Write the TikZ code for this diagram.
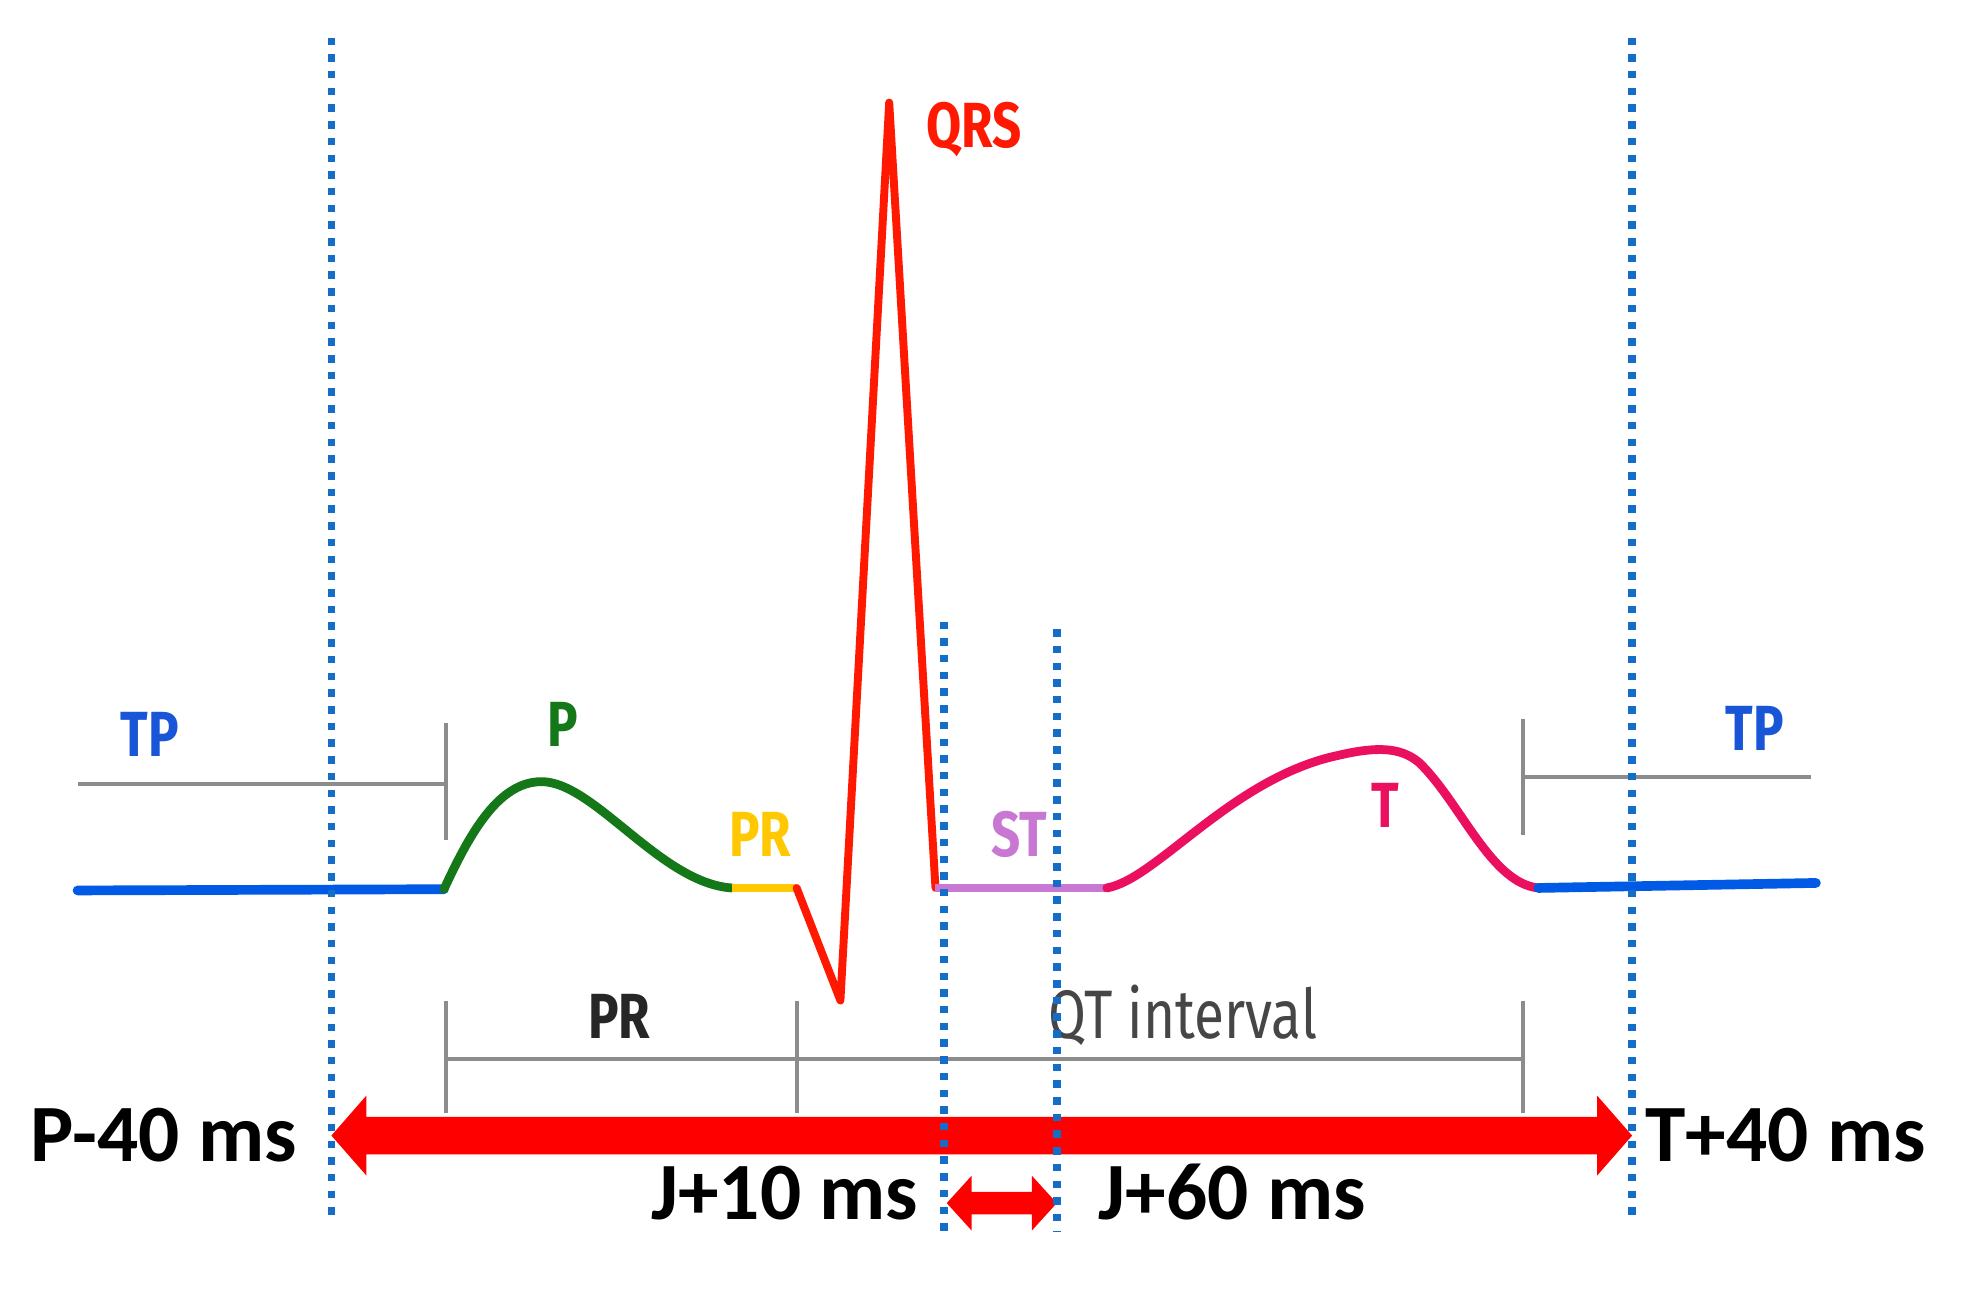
\documentclass[tikz,border=0pt]{standalone}
\usepackage{fontspec}
\newfontfamily\lblfont[FakeStretch=0.8]{Fira Sans}
\newfontfamily\calfont{Carlito}
\definecolor{dotblue}{RGB}{20,110,200}
\definecolor{tpblue}{RGB}{25,85,215}
\definecolor{baseblue}{RGB}{0,90,230}
\definecolor{pgreen}{RGB}{20,120,25}
\definecolor{pryellow}{RGB}{255,200,0}
\definecolor{qrsred}{RGB}{255,25,0}
\definecolor{storchid}{RGB}{200,120,210}
\definecolor{tpink}{RGB}{235,15,95}
\definecolor{brgray}{RGB}{140,140,140}
\definecolor{qtgray}{RGB}{70,70,70}
\tikzset{
  vdots/.style={dotblue, line width=1.7pt, dash pattern=on 1.7pt off 2.1pt},
  bracket/.style={brgray, line width=0.9pt},
  wave/.style={line width=1.8pt, line cap=round, line join=round},
  flat/.style={line width=2.2pt, line cap=round},
  wlabel/.style={inner sep=0pt, font=\lblfont\bfseries\fontsize{14.5pt}{16pt}\selectfont},
  mslabel/.style={inner sep=0pt, font=\calfont\bfseries\fontsize{18.5pt}{20pt}\selectfont, text=black},
  bigarrow/.style={fill=red, draw=none}
}
\begin{document}
\begin{tikzpicture}[x=0.01cm, y=-0.01cm]
\fill[white] (0,0) rectangle (1568,1030);
\useasboundingbox (0,0) rectangle (1568,1030);

% key points
\coordinate (L0) at (62,712);
\coordinate (Pstart) at (355,711);
\coordinate (Ppeak) at (433,625);
\coordinate (Pend) at (585,710);
\coordinate (Qstart) at (637,710);
\coordinate (Qbot) at (672,800);
\coordinate (Rpeak) at (711,82);
\coordinate (J) at (748,710);
\coordinate (STend) at (885,710);
\coordinate (Tend) at (1230,710);
\coordinate (R0) at (1452,706);

% gray brackets
\coordinate (tpl1) at (62,627);
\coordinate (tpl2) at (357,627);
\coordinate (tplt) at (357,578);
\coordinate (tplb) at (357,672);
\draw[bracket] (tpl1) -- (tpl2);
\draw[bracket] (tplt) -- (tplb);
\coordinate (tpr1) at (1218,621);
\coordinate (tpr2) at (1448,621);
\coordinate (tprt) at (1218,575);
\coordinate (tprb) at (1218,668);
\draw[bracket] (tpr1) -- (tpr2);
\draw[bracket] (tprt) -- (tprb);
\coordinate (ia) at (357,847);
\coordinate (ib) at (1218,847);
\draw[bracket] (ia) -- (ib);
\foreach \xx in {357,637,1218} {
  \draw[bracket] (\xx,800) -- (\xx,890);
}

% ECG waveform
\draw[flat, baseblue] (L0) -- (Pstart);
\draw[wave, pgreen, line width=2pt] (Pstart) .. controls (375,668) and (398,625) .. (Ppeak)
   .. controls (475,625) and (528,706) .. (Pend);
\draw[wave, pryellow, line width=2pt, line cap=butt] (Pend) -- (Qstart);
\draw[wave, qrsred] (Qstart) -- (Qbot) -- (Rpeak) -- (J);
\draw[wave, storchid, line width=1.7pt, line cap=butt] (J) -- (STend);
\draw[wave, tpink, line width=2pt] (STend) .. controls (925,703) and (985,622) .. (1070,604)
   .. controls (1100,597) and (1120,597) .. (1135,610)
   .. controls (1168,642) and (1192,706) .. (Tend);
\draw[flat, baseblue] (Tend) -- (R0);

% wave labels
\node[wlabel, text=tpblue, anchor=base] (tpL) at (120,605) {TP};
\node[wlabel, text=pgreen, anchor=base] (plab) at (450,597) {P};
\node[wlabel, text=pryellow, anchor=base] (prY) at (608,685) {PR};
\node[wlabel, text=qrsred, anchor=base west] (qrs) at (740,118) {QRS};
\node[wlabel, text=storchid, anchor=base] (st) at (815,685) {ST};
\node[wlabel, text=tpink, anchor=base] (tlab) at (1108,662) {T};
\node[wlabel, text=tpblue, anchor=base] (tpR) at (1403,600) {TP};
\node[wlabel, text=black!85, anchor=base] (prK) at (495,830) {PR};
\node[inner sep=0pt, text=qtgray, anchor=base west, font=\lblfont\fontsize{15.6pt}{17pt}\selectfont] (qt) at (838,830) {QT interval};

% big double arrow
\coordinate (A1) at (265,908);
\coordinate (A2) at (1305,908);
\fill[bigarrow] (A1) -- (293,876) -- (293,893) -- (1277,893) -- (1277,876) -- (A2)
  -- (1277,940) -- (1277,923) -- (293,923) -- (293,940) -- cycle;
% small double arrow
\coordinate (B1) at (757,962);
\coordinate (B2) at (845,962);
\fill[bigarrow] (B1) -- (777,940) -- (777,953) -- (825,953) -- (825,940) -- (B2)
  -- (825,984) -- (825,971) -- (777,971) -- (777,984) -- cycle;

% dotted verticals
\coordinate (d1t) at (265,30);  \coordinate (d1b) at (265,975);
\coordinate (d2t) at (755,497); \coordinate (d2b) at (755,985);
\coordinate (d3t) at (845,503); \coordinate (d3b) at (845,985);
\coordinate (d4t) at (1305,30); \coordinate (d4b) at (1305,975);
\draw[vdots] (d1t) -- (d1b);
\draw[vdots] (d2t) -- (d2b);
\draw[vdots] (d3t) -- (d3b);
\draw[vdots] (d4t) -- (d4b);

% ms labels
\node[mslabel, anchor=base east] (pm40) at (238,929) {P-40 ms};
\node[mslabel, anchor=base west] (tp40) at (1315,929) {T+40 ms};
\node[mslabel, anchor=base east] (j10) at (735,975) {J+10 ms};
\node[mslabel, anchor=base west] (j60) at (878,975) {J+60 ms};
\end{tikzpicture}
\end{document}
